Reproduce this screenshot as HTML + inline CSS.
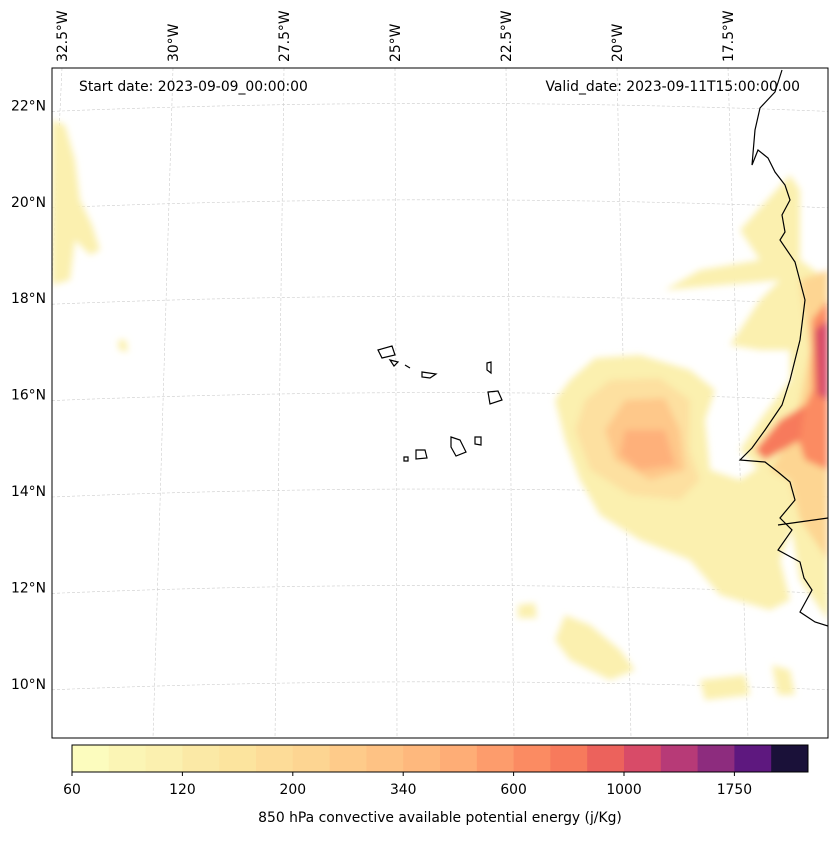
<!DOCTYPE html>
<html><head><meta charset="utf-8"><style>
body{margin:0;background:#fff;font-family:"Liberation Sans","DejaVu Sans",sans-serif}
svg text{font-family:"DejaVu Sans","Liberation Sans",sans-serif;font-size:13.9px;fill:#000}
</style></head><body>
<svg width="837" height="836" viewBox="0 0 837 836">
<defs>
<filter id="bl" x="-20%" y="-20%" width="140%" height="140%"><feGaussianBlur stdDeviation="3.5"/></filter>
<clipPath id="mapclip"><rect x="52" y="68" width="776" height="670"/></clipPath>
</defs>
<g id="map" clip-path="url(#mapclip)">
<rect x="52" y="68" width="776" height="670" fill="#fff"/>
<g id="grid"></g>
<g id="field" filter="url(#bl)">
<path d="M52,120 L65,125 L75,160 L80,200 L92,225 L100,250 L90,255 L75,240 L70,280 L52,285 Z" fill="#fbf0af"/>
<path d="M595,358 L640,355 L690,370 L715,390 L705,420 L710,470 L740,480 L770,460 L790,480 L795,520 L780,560 L790,600 L770,610 L720,595 L690,560 L640,540 L600,515 L580,480 L565,440 L555,400 L570,380 Z" fill="#fbf0af"/>
<path d="M610,380 L660,378 L690,400 L690,450 L700,480 L680,500 L630,495 L590,470 L575,430 L585,400 Z" fill="#fde0a0"/>
<path d="M625,400 L665,398 L680,430 L685,470 L650,480 L615,460 L605,430 Z" fill="#fec88a"/>
<path d="M625,430 L665,430 L675,465 L640,470 L620,455 Z" fill="#feb07a"/>
<path d="M740,230 L790,175 L800,190 L800,260 L828,280 L828,620 L800,580 L790,520 L760,470 L740,450 L760,420 L790,380 L790,350 L760,350 L730,345 L760,300 L780,280 L665,290 L700,270 L760,260 Z" fill="#fbf0af"/>
<path d="M800,280 L828,270 L828,560 L800,520 L790,480 L770,470 L790,440 L800,400 L810,350 Z" fill="#fdd592"/>
<path d="M812,320 L828,300 L828,470 L805,460 L795,430 L812,390 Z" fill="#fb8b62"/>
<path d="M815,330 L828,320 L828,400 L818,395 Z" fill="#d84b68"/>
<path d="M780,420 L805,405 L800,440 L765,460 L755,450 Z" fill="#f77a5c"/>
<path d="M565,615 L590,625 L620,650 L635,670 L610,680 L570,660 L555,640 Z" fill="#fbf0af"/>
<path d="M700,680 L745,675 L750,695 L705,700 Z" fill="#fbf0af"/>
<path d="M772,665 L790,670 L795,695 L778,695 Z" fill="#fbf0af"/>
<path d="M518,605 L535,603 L537,618 L518,618 Z" fill="#fbf0af"/>
<path d="M118,340 L126,340 L128,352 L119,350 Z" fill="#fbf0af"/>
</g>
<g id="coast" fill="none" stroke="#000" stroke-width="1.2">
<path d="M782,70 L775,92 L760,108 L755,130 L752,165 L758,150 L768,158 L775,172 L785,185 L790,200 L782,215 L785,232 L780,240 L795,262 L805,300 L800,340 L790,380 L782,405 L765,430 L752,448 L740,460 L765,462 L778,472 L790,482 L795,500 L780,518 L792,530 L778,550 L800,562 L804,578 L812,590 L800,612 L815,622 L828,626"/>
<path d="M778,525 L828,518"/>
<path d="M378,350 L392,346 L395,355 L382,358 Z M390,360 L398,362 L394,366 Z M405,365 L410,368 M422,372 L436,374 L430,378 L422,377 Z M487,363 L491,362 L491,373 L487,370 Z M488,392 L498,391 L502,400 L490,404 Z M451,437 L460,440 L466,452 L456,456 L451,447 Z M475,437 L481,437 L481,445 L475,444 Z M416,450 L425,450 L427,458 L416,459 Z M404,457 L408,457 L408,461 L404,461 Z"/>
</g>
</g>
<rect x="52" y="68" width="776" height="670" fill="none" stroke="#000" stroke-width="1"/>
<text x="79" y="91">Start date: 2023-09-09_00:00:00</text>
<text x="800" y="91" text-anchor="end">Valid_date: 2023-09-11T15:00:00.00</text>
<g id="latlabels"></g>
<g id="lonlabels"></g>
<g id="cbar"></g>
<text x="440" y="822" text-anchor="middle">850 hPa convective available potential energy (j/Kg)</text>
</svg>
<script>
const lats=[22,20,18,16,14,12,10];
const lons=[32.5,30,27.5,25,22.5,20,17.5];
const cbColors=["#fcfcbe","#fbf5b5","#fbf0af","#fbe9a6","#fce49e","#fddc98","#fdd592","#fecb8a","#fec284","#feb87d","#fead76","#fd9c6c","#fb8b62","#f77a5c","#ec625c","#d84b68","#b73a77","#8d2c7e","#5e187f","#1a1139"];
const cbTicks=["60","120","200","340","600","1000","1750"];
const NS="http://www.w3.org/2000/svg";
function mk(t,a,p){const e=document.createElementNS(NS,t);for(const k in a)e.setAttribute(k,a[k]);p.appendChild(e);return e;}
const yLat=l=>491-(l-14)*48.2;
const xLonTop=l=>62+(32.5-l)/2.5*111;
const xLonBot=l=>397-(l-25)/2.5*((l>25)?122:117);
const grid=document.getElementById('grid'),ll=document.getElementById('latlabels'),lo=document.getElementById('lonlabels');
lats.forEach(l=>{const y=yLat(l);
 const p=mk('path',{d:`M52,${y+6} Q440,${y-10} 828,${y+6}`,stroke:'#ccc','stroke-width':0.6,'stroke-dasharray':'3,2',fill:'none'},grid);
 
 const t=mk('text',{x:46,y:y+5,'text-anchor':'end'},ll);t.textContent=l+'°N';
 });
lons.forEach(l=>{const x1=xLonTop(l),x2=xLonBot(l);
 const p=mk('line',{x1:x1,y1:68,x2:x2,y2:738,stroke:'#ccc','stroke-width':0.6,'stroke-dasharray':'3,2'},grid);
 
 const t=mk('text',{x:0,y:0,transform:`translate(${x1+5},62) rotate(-90)`},lo);t.textContent=l+'°W';
 });
const cb=document.getElementById('cbar'),x0=72,w=736,sw=w/cbColors.length;
cbColors.forEach((c,i)=>{const r=mk('rect',{x:x0+i*sw,y:745,width:sw+0.5,height:27,fill:c},cb);
 });
mk('rect',{x:x0,y:745,width:w,height:27,fill:'none',stroke:'#000','stroke-width':1},cb);
cbTicks.forEach((t,i)=>{const x=x0+i*3*sw;mk('line',{x1:x,y1:772,x2:x,y2:776,stroke:'#000'},cb);
 const e=mk('text',{x:x,y:794,'text-anchor':'middle'},cb);e.textContent=t;
 });
</script>
</body></html>
